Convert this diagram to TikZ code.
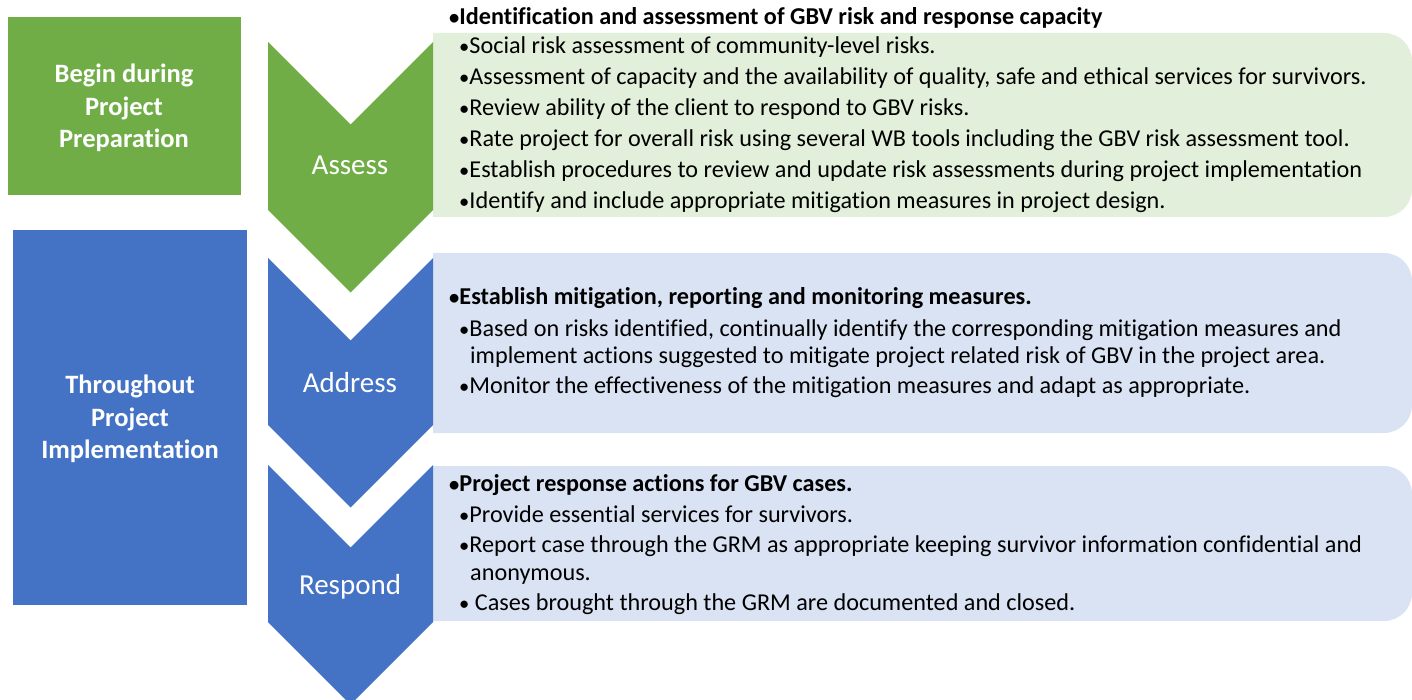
\documentclass[tikz,border=0pt]{standalone}
\usepackage{fontspec}
\setmainfont{Carlito}[Ligatures={NoCommon}]
\definecolor{cgreen}{HTML}{70AD47}
\definecolor{cblue}{HTML}{4472C4}
\definecolor{lgreen}{HTML}{E2EFDA}
\definecolor{lblue}{HTML}{DAE3F3}
\newcommand{\bul}{\scalebox{0.85}{•}}
\tikzset{
  body/.style={anchor=base west,inner sep=0pt,font=\fontsize{24.2}{29}\selectfont},
  head/.style={body,font=\fontsize{24.2}{29}\selectfont\bfseries},
  chev/.style={anchor=base,inner sep=0pt,text=white,font=\fontsize{29}{34}\selectfont},
  phase/.style={align=center,inner sep=0pt,text=white,font=\fontsize{26.5}{32.5}\selectfont\bfseries},
}
\begin{document}
\begin{tikzpicture}[x=1pt,y=-1pt]
\useasboundingbox (0,0) rectangle (1412,700);
% left phase boxes
\fill[cgreen] (8,17) rectangle (241,195);
\fill[cblue] (13,230) rectangle (247,605);
\node[phase] (prep) at (124,108) {Begin during\\Project\\Preparation};
\node[phase] (impl) at (130,419) {Throughout\\Project\\Implementation};
% text panels
\fill[lgreen] (433,217) -- (433,33) [rounded corners=28] -- (1412,33) -- (1412,217) [sharp corners] -- cycle;
\fill[lblue] (433,433) -- (433,253) [rounded corners=28] -- (1412,253) -- (1412,433) [sharp corners] -- cycle;
\fill[lblue] (433,621) -- (433,466) [rounded corners=28] -- (1412,466) -- (1412,621) [sharp corners] -- cycle;
% chevrons
\fill[cgreen] (268,42) -- (350.5,124.5) -- (433,42) -- (433,210) -- (350.5,292.5) -- (268,210) -- cycle;
\fill[cblue] (268,258) -- (350.5,340.5) -- (433,258) -- (433,425) -- (350.5,507.5) -- (268,425) -- cycle;
\fill[cblue] (268,465) -- (350.5,547.5) -- (433,465) -- (433,622) -- (350.5,704.5) -- (268,622) -- cycle;
\node[chev] (assess) at (350,175) {Assess};
\node[chev] (address) at (350,392) {Address};
\node[chev] (respond) at (350,594) {Respond};
% assess text
\node[head] (a0) at (449,25) {\bul Identification and assessment of GBV risk and response capacity};
\node[body] (a1) at (459,54) {\bul Social risk assessment of community-level risks.};
\node[body] (a2) at (459,85) {\bul Assessment of capacity and the availability of quality, safe and ethical services for survivors.};
\node[body] (a3) at (459,116) {\bul Review ability of the client to respond to GBV risks.};
\node[body] (a4) at (459,147) {\bul Rate project for overall risk using several WB tools including the GBV risk assessment tool.};
\node[body] (a5) at (459,178) {\bul Establish procedures to review and update risk assessments during project implementation};
\node[body] (a6) at (459,209) {\bul Identify and include appropriate mitigation measures in project design.};
% address text
\node[head] (b0) at (449,305) {\bul Establish mitigation, reporting and monitoring measures.};
\node[body] (b1) at (459,336) {\bul Based on risks identified, continually identify the corresponding mitigation measures and};
\node[body] (b1b) at (470,363) {implement actions suggested to mitigate project related risk of GBV in the project area.};
\node[body] (b2) at (459,393) {\bul Monitor the effectiveness of the mitigation measures and adapt as appropriate.};
% respond text
\node[head] (c0) at (449,491) {\bul Project response actions for GBV cases.};
\node[body] (c1) at (459,522) {\bul Provide essential services for survivors.};
\node[body] (c2) at (459,552) {\bul Report case through the GRM as appropriate keeping survivor information confidential and};
\node[body] (c2b) at (470,580) {anonymous.};
\node[body] (c3) at (459,610) {\bul{} Cases brought through the GRM are documented and closed.};
\end{tikzpicture}
\end{document}
